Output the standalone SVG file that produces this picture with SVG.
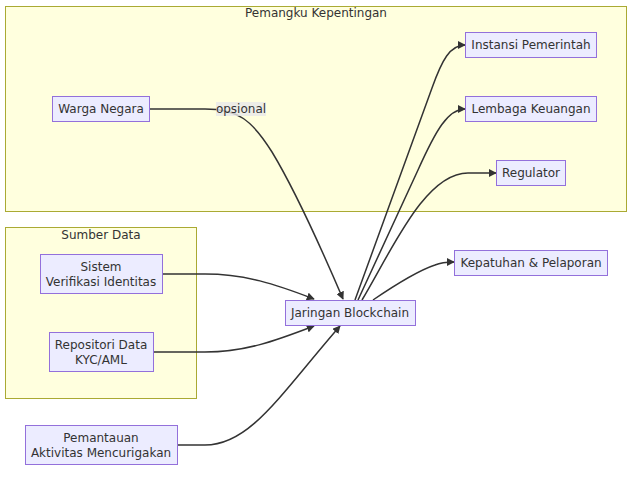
<svg xmlns="http://www.w3.org/2000/svg" width="640" height="477" viewBox="0 0 640 477">
<defs>
<marker id="arr" viewBox="0 0 10 10" refX="9" refY="5" markerWidth="8" markerHeight="8" markerUnits="userSpaceOnUse" orient="auto">
<path d="M0,0 L10,5 L0,10 z" fill="#333"/>
</marker>
<style>
.cl{fill:#ffffde;stroke:#aaaa33;stroke-width:1}
.nd{fill:#ececff;stroke:#9370db;stroke-width:1}
text{font-family:"DejaVu Sans",sans-serif;font-size:12px;fill:#333;text-anchor:middle;dominant-baseline:central}
.e{fill:none;stroke:#333;stroke-width:1.5;marker-end:url(#arr)}
</style>
</defs>
<rect width="640" height="477" fill="#fff"/>
<g id="cluster-pemangku"><rect class="cl" x="5.5" y="6.5" width="621" height="205"/><text x="316" y="13">Pemangku Kepentingan</text></g>
<g id="cluster-sumber"><rect class="cl" x="5.5" y="227.5" width="191" height="171"/><text x="101" y="235">Sumber Data</text></g>
<g id="connectors">
<path class="e" d="M150,109 L205,109 C238,109 252,120 272,152 C295,190 322,250 343,299"/>
<path class="e" d="M355,300 L432,88 C442,60 450,45 465,45"/>
<path class="e" d="M358,300 L418,170 C436,130 448,109 465,109"/>
<path class="e" d="M362,300 C392,250 425,173 468,173 L496,173"/>
<path class="e" d="M373,300 C395,285 420,270 435,265 C442,262 447,262 454,262"/>
<path class="e" d="M163,274 L205,274 C245,274 275,284 314,299"/>
<path class="e" d="M153,352 L205,352 C245,352 275,341 314,326"/>
<path class="e" d="M178,445 L205,445 C250,445 280,395 340,326"/>
<rect x="216" y="102" width="50" height="14" fill="#e8e8e8" opacity="0.8"/>
<text x="241" y="109">opsional</text>
</g>
<g id="warga"><rect class="nd" x="52.5" y="96.5" width="97" height="25"/><text x="101" y="109">Warga Negara</text></g>
<g id="instansi"><rect class="nd" x="465.5" y="32.5" width="131" height="25"/><text x="531" y="45">Instansi Pemerintah</text></g>
<g id="lembaga"><rect class="nd" x="465.5" y="96.5" width="131" height="25"/><text x="531" y="109">Lembaga Keuangan</text></g>
<g id="regulator"><rect class="nd" x="496.5" y="160.5" width="69" height="25"/><text x="531" y="173">Regulator</text></g>
<g id="kepatuhan"><rect class="nd" x="454.5" y="250.5" width="153" height="25"/><text x="531" y="263">Kepatuhan &amp; Pelaporan</text></g>
<g id="jaringan"><rect class="nd" x="285.5" y="300.5" width="130" height="25"/><text x="350" y="313">Jaringan Blockchain</text></g>
<g id="sistem"><rect class="nd" x="40.5" y="254.5" width="122" height="39"/><text x="101" y="267">Sistem</text><text x="101" y="282">Verifikasi Identitas</text></g>
<g id="repositori"><rect class="nd" x="49.5" y="332.5" width="104" height="39"/><text x="101" y="345">Repositori Data</text><text x="101" y="360">KYC/AML</text></g>
<g id="pemantauan"><rect class="nd" x="25.5" y="425.5" width="152" height="39"/><text x="101" y="438">Pemantauan</text><text x="101" y="453">Aktivitas Mencurigakan</text></g>
</svg>
